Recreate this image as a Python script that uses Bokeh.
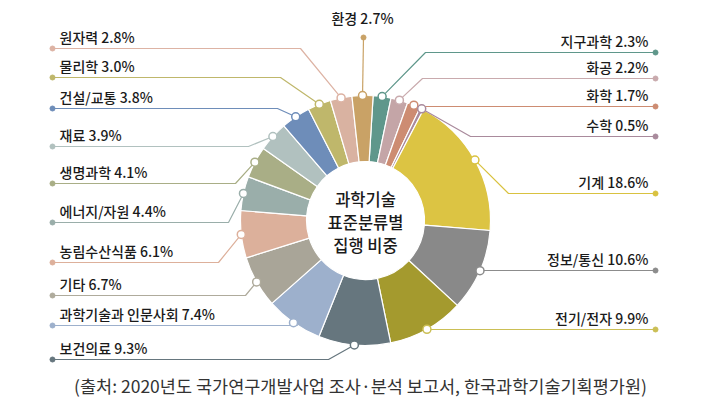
import numpy as np
from bokeh.plotting import figure
from bokeh.models import Range1d, ColumnDataSource
from bokeh.embed import file_html
from bokeh.resources import INLINE
from bokeh.core.properties import value

# ---- data (clockwise from top) ----
categories = ["지구과학", "화공", "화학", "수학", "기계", "정보/통신", "전기/전자",
              "보건의료", "과학기술과 인문사회", "기타", "농림수산식품", "에너지/자원",
              "생명과학", "재료", "건설/교통", "물리학", "원자력", "환경"]
shares = [2.3, 2.2, 1.7, 0.5, 18.6, 10.6, 9.9, 9.3, 7.4, 6.7, 6.1, 4.4, 4.1, 3.9, 3.8, 3.0, 2.8, 2.7]
colors = ["#5F978B", "#C4A5A7", "#CD8C72", "#A98A9C", "#DCC443", "#898989", "#A49A2E",
          "#66767E", "#9DB0CC", "#A9A598", "#DCB09B", "#9AAEAA", "#A9AE86", "#B1C1BF",
          "#6E8DB9", "#BFB76B", "#D9B2A1", "#C9A266"]
line_colors = ["#5F978B", "#C9AAAD", "#CD8C72", "#A98A9C", "#D9C240", "#8C8C8C", "#CBBF55",
               "#66767E", "#9DB0CC", "#AFAB9C", "#DDB09B", "#9AAEAA", "#A9AE86", "#B1C1BF",
               "#6E8DB9", "#BFB76B", "#DDB3A4", "#C9A266"]
center_lines = ["과학기술", "표준분류별", "집행 비중"]
caption = "(출처: 2020년도 국가연구개발사업 조사·분석 보고서, 한국과학기술기획평가원)"

# ---- layout (page pixels) ----
W, H = 712, 408
def X(xs): return xs
def Y(ys): return H - ys

CX, CY = X(365), Y(220)
R_OUT, R_IN = 125, 59
OFFSET = np.deg2rad(3.5)

# side, leader line y, bend x (page px)
layout = {
    "지구과학": ("R", 52, 425), "화공": ("R", 78, 422), "화학": ("R", 106, 418),
    "수학": ("R", 136, 470), "기계": ("R", 193, 508), "정보/통신": ("R", 270, 479),
    "전기/전자": ("R", 329, 425), "보건의료": ("L", 359, 328),
    "과학기술과 인문사회": ("L", 325, 297), "기타": ("L", 295, 245),
    "농림수산식품": ("L", 262, 218), "에너지/자원": ("L", 222, 228),
    "생명과학": ("L", 183, 235), "재료": ("L", 146, 248), "건설/교통": ("L", 108, 277),
    "물리학": ("L", 77, 280), "원자력": ("L", 48, 300), "환경": ("T", 37, 363),
}

# ---- geometry from data ----
vals = np.array(shares)
frac = vals / vals.sum()
cum_end = np.cumsum(frac)
cum_start = cum_end - frac
theta_s = cum_start * 2 * np.pi + OFFSET      # clockwise from top
theta_e = cum_end * 2 * np.pi + OFFSET
theta_m = (theta_s + theta_e) / 2
start_angle = np.pi / 2 - theta_e
end_angle = np.pi / 2 - theta_s
ax = CX + R_OUT * np.sin(theta_m)
ay = CY + R_OUT * np.cos(theta_m)

p = figure(width=W, height=H, x_range=Range1d(0, W), y_range=Range1d(0, H),
           output_backend="svg", toolbar_location=None, min_border=0,
           x_axis_type=None, y_axis_type=None)
p.grid.visible = False
p.outline_line_color = None
p.background_fill_color = "white"
p.border_fill_color = "white"

wsrc = ColumnDataSource(dict(sa=start_angle, ea=end_angle, color=colors))
p.annular_wedge(x=CX, y=CY, inner_radius=R_IN, outer_radius=R_OUT,
                start_angle="sa", end_angle="ea", fill_color="color",
                line_color="white", line_width=1.2, source=wsrc)

xs, ys, dx, dy = [], [], [], []
tx_l, ty_l, tt_l = [], [], []
tx_r, ty_r, tt_r = [], [], []
tx_t, ty_t, tt_t = [], [], []
for i, name in enumerate(categories):
    side, ly, bx = layout[name]
    label = f"{name} {shares[i]:.1f}%"
    if side == "T":
        xs.append([X(bx), ax[i]]); ys.append([Y(ly), ay[i]])
        dx.append(X(bx)); dy.append(Y(ly))
        tx_t.append(X(362)); ty_t.append(Y(17)); tt_t.append(label)
    elif side == "L":
        xs.append([X(52), X(bx), ax[i]]); ys.append([Y(ly), Y(ly), ay[i]])
        dx.append(X(52)); dy.append(Y(ly))
        tx_l.append(X(59)); ty_l.append(Y(ly - 12)); tt_l.append(label)
    else:
        xs.append([X(655), X(bx), ax[i]]); ys.append([Y(ly), Y(ly), ay[i]])
        dx.append(X(655)); dy.append(Y(ly))
        tx_r.append(X(648)); ty_r.append(Y(ly - 12)); tt_r.append(label)

p.multi_line(xs=xs, ys=ys, line_color=line_colors, line_width=1.2)
p.scatter(x=dx, y=dy, size=5, fill_color=line_colors, line_color=line_colors)
p.scatter(x=ax, y=ay, size=8, fill_color="white", line_color=line_colors, line_width=1.5)

FONT = value("Noto Sans CJK KR Medium")
for tx, ty, tt, align in [(tx_l, ty_l, tt_l, "left"), (tx_r, ty_r, tt_r, "right"),
                          (tx_t, ty_t, tt_t, "center")]:
    p.text(x=tx, y=ty, text=tt, text_font=FONT, text_font_size="14px",
           text_color="#1a1a1a", text_align=align, text_baseline="middle")

p.text(x=[CX] * 3, y=[Y(198), Y(221), Y(244)], text=center_lines, text_font=FONT,
       text_font_size="16.5px", text_color="#1a1a1a", text_align="center",
       text_baseline="middle")

p.text(x=[X(360)], y=[Y(385)], text=[caption], text_font=value("Noto Sans CJK KR"),
       text_font_size="17.5px", text_color="#333333", text_align="center",
       text_baseline="middle")

open("out.html", "w").write(file_html(p, INLINE))
